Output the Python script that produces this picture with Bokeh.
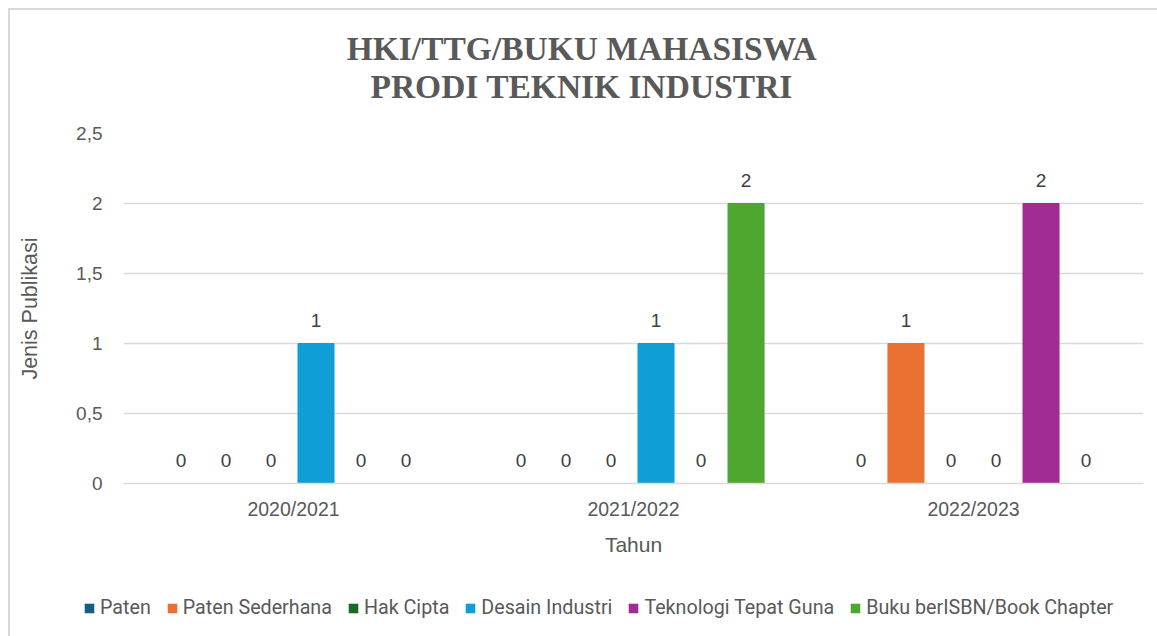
from bokeh.plotting import figure
from bokeh.layouts import column
from bokeh.models import (ColumnDataSource, FactorRange, Range1d, FixedTicker,
                          LabelSet, Label, Legend, LegendItem)
from bokeh.core.properties import value
from bokeh.transform import dodge
from bokeh.embed import file_html
from bokeh.resources import INLINE

# ---- data ----
years = ["2020/2021", "2021/2022", "2022/2023"]
series = ["Paten", "Paten Sederhana", "Hak Cipta", "Desain Industri",
          "Teknologi Tepat Guna", "Buku berISBN/Book Chapter"]
paten = [0, 0, 0]
paten_sederhana = [0, 0, 1]
hak_cipta = [0, 0, 0]
desain_industri = [1, 1, 0]
teknologi_tepat_guna = [0, 0, 2]
buku = [0, 2, 0]
values = [paten, paten_sederhana, hak_cipta, desain_industri, teknologi_tepat_guna, buku]
colors = ["#156082", "#E97132", "#196B24", "#0F9ED5", "#A02B93", "#4EA72E"]
y_ticks = [0, 0.5, 1, 1.5, 2, 2.5]
y_tick_labels = ["0", "0,5", "1", "1,5", "2", "2,5"]
title_line1 = "HKI/TTG/BUKU MAHASISWA"
title_line2 = "PRODI TEKNIK INDUSTRI"

data = {"year": years}
keys = []
for i, v in enumerate(values):
    k = f"s{i}"
    keys.append(k)
    data[k] = v
    data[k + "_lbl"] = [str(x) for x in v]
src = ColumnDataSource(data)

# ---- title strip ----
pt = figure(width=1147, height=108, x_range=Range1d(0, 1), y_range=Range1d(0, 1),
            output_backend="svg", toolbar_location=None, min_border=0,
            x_axis_location=None, y_axis_location=None)
pt.frame_align = False
pt.outline_line_color = None
pt.xgrid.grid_line_color = None
pt.ygrid.grid_line_color = None
for txt, yy in [(title_line1, 0.648), (title_line2, 0.296)]:
    pt.add_layout(Label(x=0.498, y=yy, text=txt, text_align="center",
                        text_baseline="middle", text_font="Liberation Serif",
                        text_font_size="33.5px", text_font_style="bold",
                        text_color="#595959"))

# ---- main chart ----
p = figure(x_range=FactorRange(*years, range_padding=0), y_range=Range1d(0, 2.5),
           width=1147, height=450, output_backend="svg", toolbar_location=None,
           min_border_left=113, min_border_right=14, min_border_top=15,
           min_border_bottom=85)
p.frame_align = False
p.outline_line_color = None
p.background_fill_color = "white"

slot = 0.1324
bw = 0.106
offsets = [(i - 2.5) * slot for i in range(6)]

for i, k in enumerate(keys):
    p.vbar(x=dodge("year", offsets[i], range=p.x_range), top=k, width=bw,
           source=src, fill_color=colors[i], line_color=colors[i])
    lab = LabelSet(x=dodge("year", offsets[i], range=p.x_range), y=k, text=k + "_lbl",
                   source=src, text_align="center", text_baseline="middle",
                   y_offset=23, text_font=value("Liberation Sans"), text_font_size="19px",
                   text_color="#404040")
    p.add_layout(lab)

p.yaxis.ticker = FixedTicker(ticks=y_ticks)
p.yaxis.major_label_overrides = {t: l for t, l in zip(y_ticks, y_tick_labels)}
p.yaxis.axis_line_color = None
p.yaxis.major_tick_line_color = None
p.yaxis.minor_tick_line_color = None
p.yaxis.major_label_standoff = 15
p.yaxis.major_label_text_font = "Liberation Sans"
p.yaxis.major_label_text_font_size = "19px"
p.yaxis.major_label_text_color = "#595959"
p.yaxis.axis_label = "Jenis Publikasi"
p.yaxis.axis_label_text_font = "Liberation Sans"
p.yaxis.axis_label_text_font_size = "21.5px"
p.yaxis.axis_label_text_font_style = "normal"
p.yaxis.axis_label_text_color = "#595959"
p.yaxis.axis_label_standoff = 31

p.xaxis.axis_line_color = "#d9d9d9"
p.xaxis.axis_line_width = 1.5
p.xaxis.major_tick_line_color = None
p.xaxis.minor_tick_line_color = None
p.xaxis.major_label_standoff = 8
p.xaxis.major_label_text_font = "Liberation Sans"
p.xaxis.major_label_text_font_size = "19.5px"
p.xaxis.major_label_text_color = "#595959"
p.xaxis.axis_label = "Tahun"
p.xaxis.axis_label_text_font = "Liberation Sans"
p.xaxis.axis_label_text_font_size = "21px"
p.xaxis.axis_label_text_font_style = "normal"
p.xaxis.axis_label_text_color = "#595959"
p.xaxis.axis_label_standoff = 10

p.xgrid.grid_line_color = None
p.ygrid.grid_line_color = "#d9d9d9"
p.ygrid.grid_line_width = 1.5

# ---- legend strip ----
pl = figure(width=1147, height=68, x_range=FactorRange(*years), y_range=Range1d(5, 6),
            output_backend="svg", toolbar_location=None, min_border=0,
            x_axis_location=None, y_axis_location=None)
pl.frame_align = False
pl.outline_line_color = None
pl.xgrid.grid_line_color = None
pl.ygrid.grid_line_color = None
items = []
for i, k in enumerate(keys):
    r = pl.vbar(x=dodge("year", offsets[i], range=pl.x_range), top=k, width=bw,
                source=src, fill_color=colors[i], line_color=None)
    items.append(LegendItem(label=series[i], renderers=[r]))
legend = Legend(items=items, orientation="horizontal", location=(73, 17),
                label_text_font="Roboto", label_text_font_size="19.7px",
                label_text_color="#595959", glyph_width=12, glyph_height=12,
                spacing=15, label_standoff=5, border_line_color=None,
                background_fill_alpha=0, padding=0, margin=0)
pl.add_layout(legend, "center")

layout = column(pt, p, pl, spacing=0)
layout.margin = (8, 0, 0, 8)
layout.styles = {"border-left": "2px solid #d9d9d9", "border-top": "2px solid #d9d9d9"}

open("out.html", "w").write(file_html(layout, INLINE))
